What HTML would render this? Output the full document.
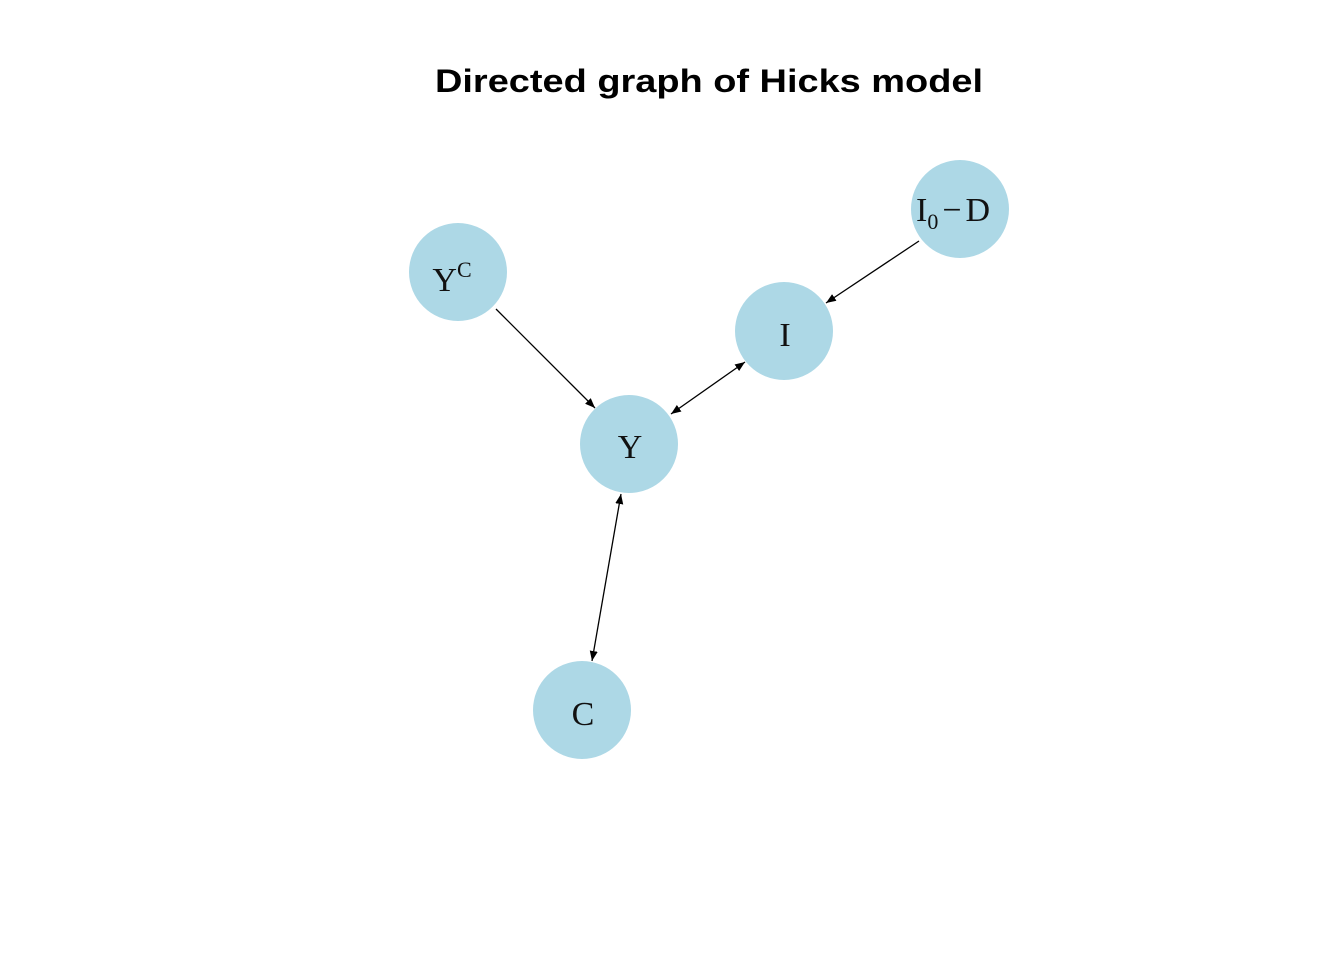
<!DOCTYPE html>
<html><head><meta charset="utf-8"><style>
html,body{margin:0;padding:0;background:#fff;}
</style></head><body>
<svg width="1344" height="960" viewBox="0 0 1344 960" xmlns="http://www.w3.org/2000/svg">
<defs>
<marker id="a" markerWidth="10" markerHeight="8" refX="10" refY="4" orient="auto-start-reverse" markerUnits="userSpaceOnUse">
<path d="M0,0 L10,4 L0,8 Z" fill="#000"/>
</marker>
</defs>
<rect width="1344" height="960" fill="#fff"/>
<text x="435" y="92" textLength="548" lengthAdjust="spacingAndGlyphs" font-family="Liberation Sans, sans-serif" font-weight="bold" font-size="32">Directed graph of Hicks model</text>
<g fill="#add8e6">
<circle cx="458" cy="272" r="49"/>
<circle cx="960" cy="209" r="49"/>
<circle cx="784" cy="331" r="49"/>
<circle cx="629" cy="444" r="49"/>
<circle cx="582" cy="710" r="49"/>
</g>
<g stroke="#000" stroke-width="1.3" fill="none">
<line x1="496" y1="309" x2="595" y2="408" marker-end="url(#a)"/>
<line x1="919" y1="241" x2="826" y2="303" marker-end="url(#a)"/>
<line x1="745" y1="362" x2="671" y2="414" marker-start="url(#a)" marker-end="url(#a)"/>
<line x1="621" y1="494" x2="592" y2="661" marker-start="url(#a)" marker-end="url(#a)"/>
</g>
<g font-family="Liberation Serif, serif" font-size="34" fill="#111" text-anchor="middle">
<text x="452" y="291">Y<tspan font-size="22" dy="-14">C</tspan></text>
<text x="916" y="221" text-anchor="start">I<tspan font-size="22" dy="8">0</tspan><tspan dx="4" dy="-8">−</tspan><tspan dx="4">D</tspan></text>
<text x="785" y="346">I</text>
<text x="630" y="458">Y</text>
<text x="583" y="725">C</text>
</g>
</svg>
</body></html>
